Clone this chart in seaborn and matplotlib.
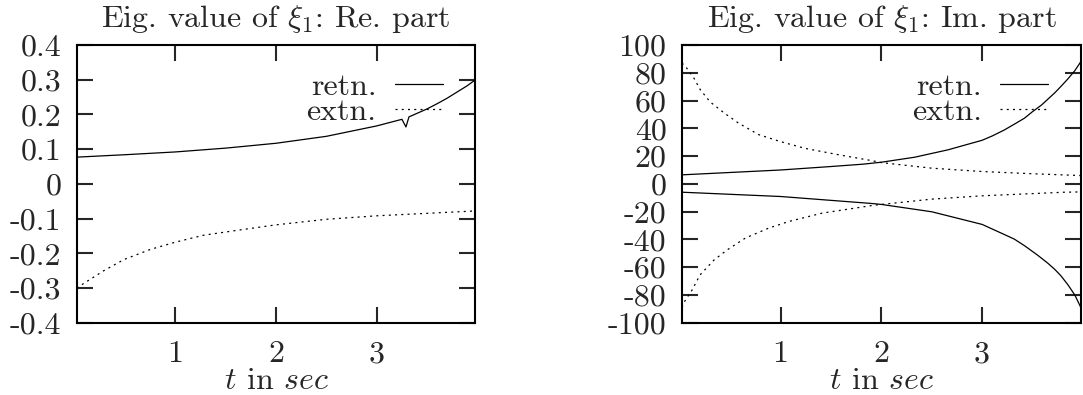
import matplotlib
matplotlib.use("Agg")
import matplotlib.pyplot as plt
import numpy as np
import pandas as pd
import seaborn as sns
from matplotlib.ticker import FuncFormatter, MultipleLocator

# --- data ------------------------------------------------------------------
# Re part, retention (solid)
t_re_retn = [0.02, 0.5, 1.0, 1.5, 2.0, 2.5, 3.0, 3.25, 3.29, 3.32, 3.5, 3.6, 3.7, 3.8,
             3.9, 3.98]
re_retn = [0.077, 0.084, 0.092, 0.103, 0.117, 0.137, 0.167, 0.186, 0.164, 0.193,
           0.216, 0.231, 0.247, 0.265, 0.283, 0.300]
# Re part, extension (dotted)
t_re_extn = [0.02, 0.1, 0.29, 0.49, 0.75, 1.0, 1.28, 1.61, 2.0, 2.5, 3.0, 3.49, 3.98]
re_extn = [-0.300, -0.285, -0.250, -0.218, -0.189, -0.168, -0.148, -0.134, -0.118,
           -0.102, -0.092, -0.085, -0.078]

# Im part, retention: upper and lower branches
t_im_retn_up = [0.02, 1.0, 1.5, 1.82, 2.0, 2.33, 2.66, 3.0, 3.1, 3.22, 3.32, 3.42, 3.5,
                3.59, 3.66, 3.72, 3.78, 3.85, 3.92, 3.98]
im_retn_up = [6.5, 10.0, 12.5, 14.2, 15.6, 19.2, 24.5, 31.4, 34.5, 38.8, 43.0, 47.3,
              52.0, 56.8, 61.5, 65.5, 70.0, 75.5, 81.5, 88.0]
t_im_retn_lo = [0.02, 1.0, 1.9, 2.0, 2.5, 3.0, 3.1, 3.2, 3.32, 3.42, 3.55, 3.65, 3.72,
                3.78, 3.85, 3.92, 3.98]
im_retn_lo = [-6.0, -9.1, -14.1, -14.8, -20.1, -29.2, -32.5, -35.8, -39.8, -44.5,
              -51.3, -57.0, -61.5, -66.0, -72.5, -80.0, -89.0]

# Im part, extension: upper and lower branches
t_im_extn_up = [0.02, 0.057, 0.14, 0.2, 0.3, 0.44, 0.585, 0.78, 1.0, 1.24, 1.58, 1.9,
                2.0, 2.5, 3.0, 3.5, 3.98]
im_extn_up = [87.0, 84.4, 76.0, 68.0, 59.0, 51.0, 43.6, 35.5, 30.4, 25.6, 20.9, 16.8,
              15.3, 11.3, 8.9, 7.3, 6.0]
t_im_extn_lo = [0.02, 0.05, 0.12, 0.2, 0.34, 0.47, 0.65, 0.88, 1.08, 1.41, 1.905,
                2.0, 2.5, 3.0, 3.82, 3.98]
im_extn_lo = [-89.0, -84.2, -76.5, -65.5, -54.7, -47.5, -39.0, -31.9, -27.1, -21.1,
              -15.6, -14.8, -11.0, -8.6, -6.0, -5.8]

titles = [r"Eig. value of $\xi_1$: Re. part", r"Eig. value of $\xi_1$: Im. part"]
xlabel = r"$t$ in $sec$"
labels = ["retn.", "extn."]

# --- style -----------------------------------------------------------------
sns.set_style("ticks")
FS = 23
plt.rcParams.update({
    "font.family": ["cmr10", "DejaVu Serif"],
    "mathtext.fontset": "cm",
    "axes.unicode_minus": False,
    "axes.formatter.use_mathtext": True,
    "font.size": FS,
    "axes.edgecolor": "black",
    "axes.linewidth": 1.5,
})

DOT = (0, (1.6, 3.4))
LW = 0.9

fig = plt.figure(figsize=(10.83, 3.95), dpi=100)
ax1 = fig.add_axes([0.0708, 0.183, 0.3682, 0.703])
ax2 = fig.add_axes([0.6297, 0.183, 0.3683, 0.703])

sns.lineplot(x=t_re_retn, y=re_retn, ax=ax1, color="black", lw=LW, label=labels[0])
sns.lineplot(x=t_re_extn, y=re_extn, ax=ax1, color="black", lw=LW, linestyle=DOT,
             label=labels[1])

sns.lineplot(x=t_im_retn_up, y=im_retn_up, ax=ax2, color="black", lw=LW, label=labels[0])
sns.lineplot(x=t_im_extn_up, y=im_extn_up, ax=ax2, color="black", lw=LW, linestyle=DOT,
             label=labels[1])
sns.lineplot(x=t_im_retn_lo, y=im_retn_lo, ax=ax2, color="black", lw=LW)
sns.lineplot(x=t_im_extn_lo, y=im_extn_lo, ax=ax2, color="black", lw=LW, linestyle=DOT)

fmt = FuncFormatter(lambda v, _: f"{v:g}" if abs(v) > 1e-9 else "0")
for ax, title, ylim, ystep in [(ax1, titles[0], (-0.4, 0.4), 0.1),
                               (ax2, titles[1], (-100, 100), 20)]:
    ax.set_xlim(0.02, 3.98)
    ax.set_ylim(*ylim)
    ax.xaxis.set_major_locator(MultipleLocator(1))
    ax.yaxis.set_major_locator(MultipleLocator(ystep))
    ax.xaxis.set_major_formatter(fmt)
    ax.yaxis.set_major_formatter(fmt)
    ax.tick_params(axis="both", which="major", direction="in", length=11.5, width=1.5,
                   top=True, right=True, labelsize=FS)
    ax.tick_params(axis="x", pad=13)
    ax.tick_params(axis="y", pad=11)
    for s in ax.spines.values():
        s.set_visible(True)
        s.set_linewidth(1.5)
    ax.set_title(title, fontsize=FS, pad=13)
    ax.set_xlabel(xlabel, fontsize=FS, va="baseline")
    ax.xaxis.set_label_coords(0.5, -0.238)
    ax.set_ylabel("")
    ax.legend(loc="upper right", bbox_to_anchor=(0.918, 0.9), frameon=False,
              markerfirst=False, handlelength=1.5, handletextpad=0.57,
              labelspacing=-0.1, borderpad=0, borderaxespad=0, fontsize=FS)

fig.savefig("out.png", dpi=100)
